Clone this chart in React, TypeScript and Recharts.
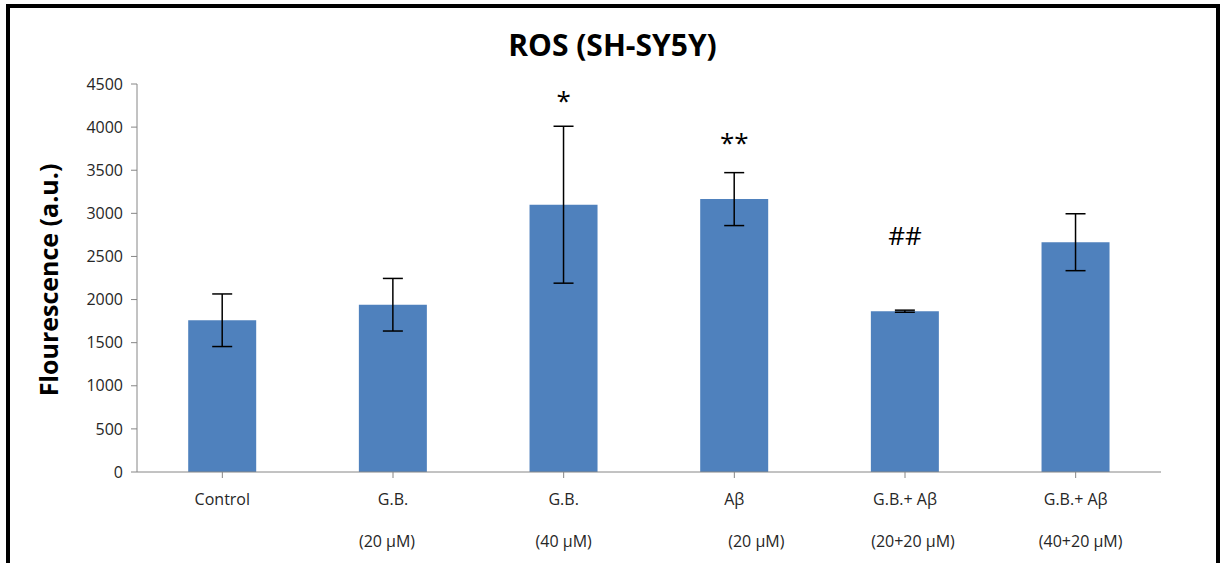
import { BarChart, Bar, XAxis, YAxis, ErrorBar, ReferenceDot } from 'recharts'

// values
const groups = ['Control', 'G.B.', 'G.B.', 'Aβ', 'G.B.+ Aβ', 'G.B.+ Aβ']
const doses = ['', '(20 µM)', '(40 µM)', '(20 µM)', '(20+20 µM)', '(40+20 µM)']
const means = [1760, 1940, 3100, 3165, 1865, 2665]
const sems = [305, 305, 910, 307, 12, 330]
const yTicks = [0, 500, 1000, 1500, 2000, 2500, 3000, 3500, 4000, 4500]

// significance markers: category index, symbol, height (data units)
const markIdx = [2, 3, 4]
const markText = ['*', '**', '##']
const markAt = [4300, 3820, 2740]

// the second label line is not quite centred in the original
const doseShift = [0, -6, 0, 22, 8, 5]

const BLUE = '#4f81bd'
const FONT = '"Open Sans", "Noto Sans", sans-serif'

const chartData = groups.map((g, i) => ({
  key: `c${i}`,
  group: g,
  dose: doses[i],
  value: means[i],
  err: sems[i]
}))

const CategoryTick = ({ x, y, payload }: any) => {
  const idx = chartData.findIndex((d) => d.key === payload.value)
  if (idx < 0) return null
  const row = chartData[idx]
  return (
    <g>
      <text x={x} y={y + 25} textAnchor="middle" fontSize={16} fill="#262626" fontFamily={FONT}>
        {row.group}
      </text>
      <text x={x + doseShift[idx]} y={y + 67} textAnchor="middle" fontSize={16} fill="#262626" fontFamily={FONT}>
        {row.dose}
      </text>
    </g>
  )
}

const YTitle = ({ viewBox }: any) => {
  const cy = viewBox.y + viewBox.height / 2 + 2
  return (
    <text
      x={58}
      y={cy}
      transform={`rotate(-90, 58, ${cy})`}
      textAnchor="middle"
      fontSize={25}
      fontWeight={700}
      fill="#000"
      fontFamily={FONT}
    >
      Flourescence (a.u.)
    </text>
  )
}

export default function App() {
  return (
    <div style={{ position: 'absolute', left: 0, top: 0, width: 1225, height: 563, overflow: 'hidden', background: '#fff' }}>
      <div
        style={{
          position: 'absolute',
          left: 6,
          top: 4,
          width: 1214,
          height: 620,
          border: '4px solid #000',
          boxSizing: 'border-box'
        }}
      />
      <div
        style={{
          position: 'absolute',
          left: 0,
          top: 24,
          width: 1225,
          textAlign: 'center',
          fontFamily: FONT,
          fontWeight: 700,
          fontSize: 30,
          color: '#000'
        }}
      >
        ROS (SH-SY5Y)
      </div>
      <div style={{ position: 'absolute', left: 0, top: 0 }}>
        <BarChart
          width={1225}
          height={563}
          data={chartData}
          margin={{ top: 84, right: 64, bottom: 0, left: 0 }}
          barCategoryGap="30%"
        >
          <XAxis
            dataKey="key"
            height={91}
            tick={<CategoryTick />}
            tickLine={{ stroke: '#868686' }}
            axisLine={{ stroke: '#868686' }}
            interval={0}
            tickSize={6}
          />
          <YAxis
            width={137}
            domain={[0, 4500]}
            ticks={yTicks}
            interval={0}
            tickSize={6}
            tickMargin={8}
            tick={{ fontSize: 16, fill: '#262626', fontFamily: FONT }}
            tickLine={{ stroke: '#868686' }}
            axisLine={{ stroke: '#868686' }}
            label={<YTitle />}
          />
          <Bar dataKey="value" fill={BLUE} isAnimationActive={false}>
            <ErrorBar dataKey="err" width={10} stroke="#000" strokeWidth={1.5} direction="y" />
          </Bar>
          {markIdx.map((ci, i) => (
            <ReferenceDot
              key={i}
              x={chartData[ci].key}
              y={markAt[i]}
              r={0}
              fill="none"
              stroke="none"
              label={{
                value: markText[i],
                position: 'center',
                fontSize: 26,
                fill: '#000',
                fontFamily: FONT
              }}
            />
          ))}
        </BarChart>
      </div>
    </div>
  )
}
